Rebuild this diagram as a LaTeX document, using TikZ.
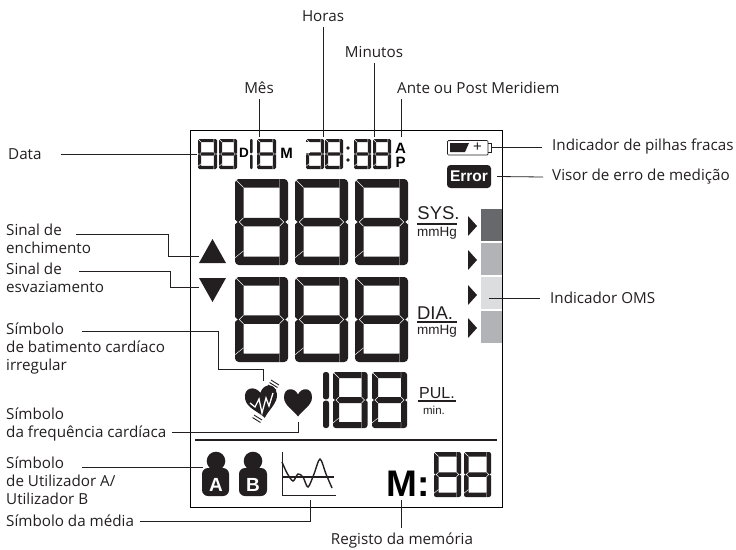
\documentclass[tikz,border=0pt]{standalone}
\usepackage{fontspec}
\setmainfont{Open Sans}
\newfontfamily\lcdfont{Liberation Sans}
\usetikzlibrary{positioning,calc}
\definecolor{lcdblack}{HTML}{231F20}
\definecolor{barDark}{HTML}{67686B}
\definecolor{barMid}{HTML}{B1B3B6}
\definecolor{barLight}{HTML}{DCDDDE}
% seven segment digit: x, y, width, height, bar thickness
\newcommand{\lcddigit}[5]{%
  \fill[lcdblack, even odd rule, rounded corners=0.45*#5pt]
    (#1,#2) rectangle (#1+#3,#2+#4)
    [sharp corners]
    (#1+#5,#2+#5) rectangle (#1+#3-#5,#2+0.5*#4-0.5*#5)
    (#1+#5,#2+0.5*#4+0.5*#5) rectangle (#1+#3-#5,#2+#4-#5);
  \draw[lcdcut]
    (#1,#2) -- (#1+#5,#2+#5)
    (#1+#3-#5,#2) -- (#1+#3-#5,#2+#5)
    (#1+#5,#2+#4-1.67*#5) -- (#1,#2+#4-0.85*#5)
    (#1+#3-#5,#2+#4-#5) -- (#1+#3-#5,#2+#4)
    (#1+#5,#2+0.5*#4-0.5*#5) -- (#1+0.5*#5,#2+0.5*#4) -- (#1+#5,#2+0.5*#4+0.5*#5)
    (#1+#3-#5,#2+0.5*#4-0.5*#5) -- (#1+#3-0.5*#5,#2+0.5*#4) -- (#1+#3-#5,#2+0.5*#4+0.5*#5);
  \fill[white]
    (#1-0.3,#2+0.5*#4-0.3*#5) -- (#1+0.3*#5,#2+0.5*#4) -- (#1-0.3,#2+0.5*#4+0.3*#5) -- cycle
    (#1+#3+0.3,#2+0.5*#4-0.3*#5) -- (#1+#3-0.3*#5,#2+0.5*#4) -- (#1+#3+0.3,#2+0.5*#4+0.3*#5) -- cycle;
}
% the bare digit one: x, y, width, height
\newcommand{\lcdone}[4]{%
  \fill[lcdblack, rounded corners=0.4*#3pt]
    (#1,#2) rectangle (#1+#3,#2+0.5*#4-0.6);
  \fill[lcdblack, rounded corners=0.4*#3pt]
    (#1,#2+0.5*#4+0.6) rectangle (#1+#3,#2+#4);
}
\newcommand{\heartshape}{%
  (0,-8) .. controls (3,-15) and (14,-16) .. (14,-5)
  .. controls (14,3) and (4,8) .. (0,14)
  .. controls (-4,8) and (-14,3) .. (-14,-5)
  .. controls (-14,-16) and (-3,-15) .. (0,-8) -- cycle}

\begin{document}
\begin{tikzpicture}[
  x=1pt, y=-1pt,
  lbl/.style={inner sep=0pt, font=\fontsize{15.2}{17.6}\selectfont, align=left, text=lcdblack},
  lead/.style={draw=lcdblack, line width=0.8pt},
  frameline/.style={draw=black, line width=0.9pt},
  lcdcut/.style={draw=white, line width=0.45pt},
  barbox/.style={inner sep=0pt, minimum width=21pt, minimum height=32pt},
  pointer/.style={fill=lcdblack},
  sans/.style={inner sep=0pt, text=lcdblack, font=\lcdfont\fontsize{#1}{#1}\selectfont},
  bold/.style={inner sep=0pt, font=\lcdfont\bfseries\fontsize{#1}{#1}\selectfont}
]
\useasboundingbox (0,0) rectangle (736,549);

% Frame
\draw[frameline] (190,130) -- (190,507.5) -- (502.5,507.5) -- (502.5,130) -- cycle;
\draw[lcdblack, line width=1.5pt] (195,440) -- (497,440);

% WHO bars
\node[barbox, fill=barDark] (barA) at (491.5,225) {};
\node[barbox, fill=barMid] (barB) at (491.5,259) {};
\node[barbox, fill=barLight] (barC) at (491.5,293) {};
\node[barbox, fill=barMid] (barD) at (491.5,327) {};
\foreach \py in {226,260,295,328}
  \fill[pointer] (468,\py-10) -- (477,\py) -- (468,\py+10) -- cycle;

% Date row
\lcddigit{198}{139}{19}{30}{3.2}
\lcddigit{219}{139}{18}{30}{3.2}
\node[bold=13.5] (dayD) at (244,153) {D};
\lcdone{250}{139}{2.6}{30}
\lcddigit{257}{139}{19}{30}{3.2}
\node[bold=15] (monM) at (286.5,153) {M};
\lcddigit{306}{139}{18}{30}{3.2}
\fill[white] (305.5,142.2) rectangle (309.5,152.5);
\lcddigit{325}{139}{18}{30}{3.2}
\fill[lcdblack] (348,148) circle (1.9) (348,160) circle (1.9);
\lcddigit{354}{139}{17}{30}{3.2}
\lcddigit{373}{139}{18}{30}{3.2}
\node[bold=15] (ampmA) at (400.5,148) {A};
\node[bold=15] (ampmP) at (400.5,162) {P};

% Big digits
\foreach \dx in {235,295,355} {
  \lcddigit{\dx}{179}{53}{86}{8.5}
  \lcddigit{\dx}{277}{53}{85}{8.5}
}
\lcdone{323}{372}{6}{56}
\lcddigit{333}{372}{34.5}{56}{6}
\lcddigit{372}{372}{35}{56}{6}

% Units
\node[sans=18.5] (sys) at (438.5,213) {SYS.};
\draw[lcdblack, line width=1.2pt] (417,224) -- (457,224);
\node[sans=13.5] (mmA) at (437,233) {mmHg};
\node[sans=18.5] (dia) at (435,313) {DIA.};
\draw[lcdblack, line width=1.2pt] (417,322) -- (457,322);
\node[sans=13.5] (mmB) at (437,331) {mmHg};
\node[sans=16] (pul) at (437,393) {PUL.};
\draw[lcdblack, line width=1.2pt] (418,401) -- (456,401);
\node[sans=11.5] (mins) at (434,410) {min.};

% Battery and error
\draw[lcdblack, line width=0.7pt, rounded corners=1pt]
  (447.5,140.5) rectangle (488,155);
\draw[lcdblack, line width=0.8pt] (488,143.5) -- (491,143.5) -- (491,152) -- (488,152);
\fill[lcdblack] (450,143) -- (469,143) -- (465,152) -- (450,152) -- cycle;
\node[sans=15] (plus) at (477.5,147) {+};
\node[fill=lcdblack, rounded corners=3.5pt, minimum width=44pt, minimum height=23pt,
  inner sep=0pt, text=white, font=\lcdfont\bfseries\fontsize{15.5}{15.5}\selectfont] (err) at (469,176.5) {Error};

% Up and down
\fill[pointer] (199,263) -- (212.5,239) -- (226,263) -- cycle;
\fill[pointer] (199,278) -- (226,278) -- (212.5,302) -- cycle;

% Hearts
\begin{scope}[shift={(262,402)}, rotate=10, scale=1.15]
  \fill[lcdblack] \heartshape;
\end{scope}
\draw[white, line width=1.3pt, line join=miter]
  (250,403) -- (255,407) -- (259,399) -- (262,413) -- (266,398) -- (269,406) -- (273,393);
\draw[lcdblack, line width=0.9pt]
  (271,380) -- (279,385) (269.5,382.5) -- (277.5,387.5) (268,385) -- (276,390)
  (254,415) -- (262,420) (252.5,417.5) -- (260.5,422.5);
\begin{scope}[shift={(298,402.5)}]
  \fill[lcdblack] \heartshape;
\end{scope}

% Users
\fill[lcdblack] (216,461) circle (9.3) (253,461) circle (9.3);
\fill[lcdblack, rounded corners=6pt] (202,468) rectangle (229,496);
\fill[lcdblack, rounded corners=6pt] (239,468) rectangle (267,496);
\node[bold=19, text=white] (userA) at (216,485) {A};
\node[bold=19, text=white] (userB) at (253,485) {B};

% Average chart
\draw[lcdblack, line width=0.8pt] (282,452) -- (282,495) -- (336,495);
\draw[lcdblack, line width=2.4pt] (282,477) -- (334,477);
\draw[lcdblack, line width=1.4pt] plot[smooth] coordinates
  {(282,462) (287,473) (293,481) (298,474) (303,477) (308,487) (314,474) (320,459) (326,474) (332,488)};

% Memory
\node[bold=37] (memM) at (408,483.5) {M:};
\lcddigit{434}{452}{27}{45}{4.5}
\lcddigit{464}{452}{27}{45}{4.5}

% Labels
\node[lbl] (horas) at (323,16) {Horas};
\node[lbl] (minutos) at (374,52) {Minutos};
\node[lbl] (mes) at (259,88) {Mês};
\node[lbl, anchor=west] (meridiem) at (397,88) {Ante ou Post Meridiem};
\node[lbl, anchor=west] (data) at (8,154) {Data};
\node[lbl, anchor=north west] (enche) at (6,224) {Sinal de\\enchimento};
\node[lbl, anchor=north west] (esvazia) at (6,263) {Sinal de\\esvaziamento};
\node[lbl, anchor=north west] (irregular) at (6,323) {Símbolo\\de batimento cardíaco\\irregular};
\node[lbl, anchor=north west] (freq) at (6,408) {Símbolo\\da frequência cardíaca};
\node[lbl, anchor=north west] (utilizador) at (6,457) {Símbolo\\de Utilizador A/\\Utilizador B};
\node[lbl, anchor=west] (media) at (6,521) {Símbolo da média};
\node[lbl] (registo) at (402,540) {Registo da memória};
\node[lbl, anchor=west] (pilhas) at (552,147) {Indicador de pilhas fracas};
\node[lbl, anchor=west] (visor) at (552,177) {Visor de erro de medição};
\node[lbl, anchor=west] (oms) at (550,298) {Indicador OMS};

% Free ends
\coordinate (horasEnd) at (323,137);
\coordinate (minutosEnd) at (374,137);
\coordinate (mesEnd) at (259,137);
\coordinate (meridiemEnd) at (401,137);
\coordinate (dataEnd) at (197,154);
\coordinate (battery) at (492,147);
\coordinate (omsEnd) at (489,298);
\coordinate (upTri) at (199,256);
\coordinate (downTri) at (199,287);
\coordinate (heartA) at (263,381);
\coordinate (heartB) at (298,422);
\coordinate (usersEnd) at (203,467);
\coordinate (chartEnd) at (310,500);
\coordinate (memEnd) at (401,500);

% Arrows - top
\draw[lead] ([yshift=-5pt]horas.south) -- (horasEnd);
\draw[lead] ([yshift=-5pt]minutos.south) -- (minutosEnd);
\draw[lead] ([yshift=-5pt]mes.south) -- (mesEnd);
\draw[lead] ([yshift=-5pt]meridiem.south -| meridiemEnd) -- (meridiemEnd);
\draw[lead] ([xshift=19pt]data.east) -- (dataEnd);

% Arrows - right
\draw[lead] (battery) -- ([xshift=-10pt]pilhas.west);
\draw[lead] ([xshift=6pt]err.east) -- ([xshift=-9pt]visor.west);
\draw[lead] (omsEnd) -- ([xshift=-10pt]oms.west);

% Arrows - left
\draw[lead] ([shift={(70,10)}]enche.north west) -| ($(upTri)+(-31,0)$) -- (upTri);
\draw[lead] ([shift={(73,8)}]esvazia.north west) -| ($(downTri)+(-29,0)$) -- (downTri);
\draw[lead] ([shift={(76,8)}]irregular.north west) -| (218,369) -| (heartA);
\draw[lead] ([shift={(5,-9)}]freq.south east) -| (heartB);
\draw[lead] ([shift={(76,10)}]utilizador.north west) -- (usersEnd);
\draw[lead] ([xshift=6pt]media.east) -| (chartEnd);
\draw[lead] (memEnd) -- ([yshift=4pt]registo.north -| memEnd);
\end{tikzpicture}
\end{document}
